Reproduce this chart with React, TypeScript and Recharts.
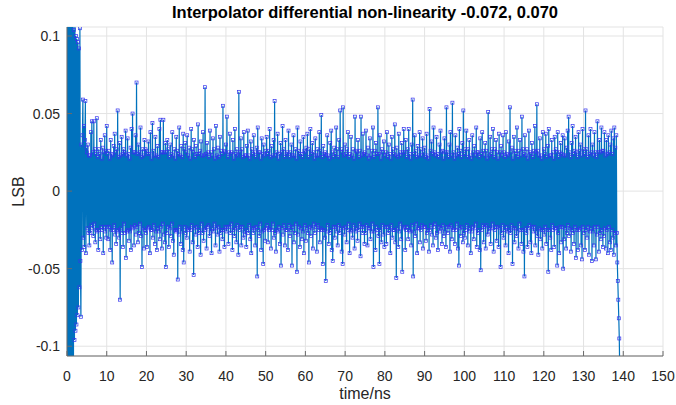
import React from "react";
import {
  LineChart,
  Line,
  XAxis,
  YAxis,
  CartesianGrid,
} from "recharts";

// sample spacing (ns); DNL per sample in milli-LSB, one row per 5 ns
const STEP_NS = 0.125;

const DNL_MLSB: number[] = [
  210, -220, 230, -200, 215, -235, 205, -225, 220, -210, 240, -215, 200, -115, 104, -96, 110, -90, 100, -86, 98, -80, 96, -75, 92, -62, 105, -45, -81, 30, -38, 36, 59, -30, 42, -36, 33, 58, -40, 28,
  25, -24, 30, -27, 23, -35, 23, -27, 38, -22, 45, -24, 25, -29, 45, -21, 27, -33, 24, -25, 47, -26, 22, -38, 27, -25, 24, -31, 33, -23, 21, -25, 28, -40, 25, -23, 36, -26, 26, -30,
  42, -23, 24, -31, 26, -23, 21, -38, 33, -25, 24, -46, 23, -25, 29, -22, 37, -28, 25, -34, 27, -25, 52, -26, 22, -30, 31, -70, 23, -24, 35, -27, 24, -36, 27, -21, 25, -27, 39, -43,
  23, -26, 34, -25, 24, -32, 21, -26, 28, -38, 40, -23, 50, -24, 25, -35, 25, -22, 36, -28, 70, -23, 24, -33, 30, -27, 25, -21, 41, -29, 22, -49, 27, -24, 23, -37, 33, -25, 27, -27,
  26, -36, 24, -24, 32, -23, 24, -40, 38, -25, 21, -25, 44, -30, 26, -22, 23, -34, 35, -26, 23, -38, 29, -24, 22, -26, 40, -31, 46, -23, 25, -37, 25, -21, 46, -28, 25, -33, 31, -49,
  25, -27, 33, -23, 27, -36, 22, -24, 30, -29, 24, -21, 38, -32, 23, -41, 27, -25, 21, -26, 35, -25, 26, -57, 24, -28, 41, -23, 23, -34, 29, -26, 22, -38, 37, -46, 27, -23, 31, -27,
  25, -30, 36, -24, 23, -25, 28, -39, 21, -25, 40, -22, 27, -33, 25, -54, 33, -24, 22, -28, 29, -23, 24, -36, 43, -27, 24, -25, 26, -41, 32, -21, 23, -27, 38, -32, 23, -24, 67, -25,
  24, -37, 31, -23, 25, -22, 22, -29, 39, -26, 25, -40, 23, -24, 34, -26, 27, -21, 21, -35, 42, -24, 23, -28, 28, -23, 22, -39, 35, -27, 26, -25, 24, -31, 55, -25, 26, -36, 25, -23,
  30, -26, 48, -23, 22, -34, 25, -23, 37, -27, 24, -21, 25, -38, 33, -25, 21, -29, 40, -24, 24, -33, 27, -22, 23, -41, 64, -25, 25, -23, 34, -35, 27, -23, 22, -30, 38, -26, 23, -28,
  23, -36, 29, -25, 39, -27, 23, -22, 21, -31, 32, -40, 27, -24, 24, -27, 36, -24, 25, -35, 22, -23, 28, -55, 41, -25, 25, -29, 25, -21, 21, -38, 34, -26, 24, -47, 30, -25, 23, -32,
  26, -24, 35, -22, 24, -33, 26, -25, 40, -24, 22, -37, 29, -25, 23, -21, 33, -30, 58, -27, 23, -39, 25, -25, 37, -26, 21, -23, 24, -34, 31, -48, 25, -24, 42, -28, 27, -22, 22, -35,
  33, -25, 24, -25, 25, -38, 39, -22, 22, -29, 25, -25, 30, -48, 23, -23, 36, -33, 23, -27, 27, -21, 21, -52, 41, -28, 26, -23, 24, -36, 32, -24, 24, -31, 22, -26, 35, -40, 26, -22,
  25, -32, 28, -24, 37, -27, 22, -46, 27, -23, 40, -29, 24, -24, 31, -37, 25, -21, 21, -27, 34, -23, 23, -39, 27, -22, 23, -25, 38, -33, 26, -24, 49, -25, 22, -47, 29, -25, 24, -30,
  25, -58, 23, -26, 36, -22, 23, -34, 21, -27, 31, -25, 39, -38, 25, -45, 22, -23, 28, -30, 24, -23, 41, -26, 27, -35, 22, -22, 33, -27, 52, -24, 25, -39, 27, -47, 54, -24, 23, -28,
  30, -23, 24, -33, 27, -25, 38, -21, 22, -40, 24, -26, 35, -25, 23, -30, 27, -22, 21, -37, 48, -26, 26, -24, 25, -32, 33, -25, 22, -21, 26, -42, 48, -23, 23, -27, 37, -23, 24, -34,
  25, -27, 39, -22, 23, -35, 28, -24, 21, -24, 34, -31, 23, -26, 26, -21, 41, -49, 22, -26, 26, -38, 31, -23, 24, -25, 54, -29, 24, -47, 36, -25, 21, -33, 27, -22, 25, -28, 32, -36,
  23, -23, 25, -34, 38, -23, 22, -27, 30, -25, 24, -40, 21, -22, 35, -30, 27, -25, 24, -25, 43, -33, 23, -56, 28, -24, 22, -36, 37, -26, 25, -21, 23, -31, 31, -52, 25, -24, 40, -23,
  25, -38, 33, -25, 22, -23, 27, -31, 40, -25, 24, -26, 21, -35, 30, -22, 59, -55, 24, -26, 36, -29, 26, -21, 22, -40, 29, -24, 23, -24, 38, -33, 27, -25, 23, -22, 34, -37, 25, -23,
  28, -23, 22, -32, 37, -27, 23, -25, 21, -39, 53, -25, 26, -22, 32, -28, 24, -35, 41, -23, 25, -21, 23, -30, 35, -27, 24, -38, 22, -23, 30, -26, 39, -24, 25, -34, 26, -22, 21, -29,
  34, -26, 25, -36, 54, -23, 25, -27, 22, -23, 30, -39, 38, -22, 23, -31, 57, -25, 25, -24, 21, -34, 36, -25, 23, -21, 28, -37, 24, -48, 40, -24, 26, -29, 22, -23, 31, -33, 52, -27,
  24, -30, 27, -25, 39, -22, 22, -35, 27, -26, 33, -24, 23, -40, 21, -26, 36, -23, 25, -31, 29, -24, 23, -21, 41, -36, 25, -27, 25, -25, 22, -38, 34, -51, 24, -25, 38, -22, 26, -33,
  23, -23, 31, -37, 26, -22, 21, -28, 51, -26, 23, -24, 35, -34, 24, -24, 27, -21, 40, -39, 22, -25, 27, -23, 33, -32, 25, -23, 21, -36, 37, -24, 25, -49, 29, -27, 23, -22, 36, -30,
  25, -25, 22, -35, 38, -23, 24, -26, 23, -40, 32, -25, 54, -27, 25, -22, 28, -47, 21, -24, 35, -33, 26, -24, 24, -29, 41, -26, 22, -37, 26, -21, 33, -25, 23, -34, 48, -25, 27, -39,
  24, -55, 36, -24, 23, -27, 27, -36, 21, -24, 39, -22, 25, -33, 24, -40, 31, -23, 22, -26, 26, -23, 42, -35, 25, -26, 56, -29, 26, -41, 23, -24, 34, -31, 23, -25, 21, -37, 38, -25,
  27, -28, 24, -23, 37, -34, 22, -25, 29, -52, 40, -25, 23, -30, 23, -38, 33, -22, 25, -25, 21, -36, 35, -24, 27, -24, 25, -48, 38, -27, 22, -40, 25, -23, 31, -33, 24, -23, 36, -50,
  23, -31, 34, -24, 23, -37, 28, -27, 39, -22, 48, -29, 25, -24, 22, -39, 31, -25, 42, -27, 24, -34, 26, -23, 35, -43, 25, -25, 22, -38, 38, -25, 26, -24, 30, -35, 23, -44, 40, -23,
  27, -27, 24, -38, 52, -25, 27, -30, 22, -23, 36, -41, 24, -26, 40, -24, 25, -45, 30, -26, 23, -35, 38, -23, 25, -44, 22, -28, 45, -23, 25, -39, 33, -27, 25, -31, 41, -25, 26, -36,
  26, -29, 38, -24, 23, -37, 33, -25, 24, -40, 36, -23, 25, -33, 30, -38, 39, -25, 24, -30, 34, -41, 41, -27, 28, -35, 36, -27, -46, -58, -70, -82, -95, -120,
];

const X_TICKS = [0, 10, 20, 30, 40, 50, 60, 70, 80, 90, 100, 110, 120, 130, 140, 150];
const Y_TICKS = [-0.1, -0.05, 0, 0.05, 0.1];
const Y_DOMAIN: [number, number] = [-0.1063, 0.1058];

const TITLE = "Interpolator differential non-linearity -0.072, 0.070";

const FONT = "'Liberation Sans', Arial, Helvetica, sans-serif";
const AXIS_COLOR = "#6b6b6b";
const TEXT_COLOR = "#262626";
const LINE_COLOR = "#0072BD";
const MARKER_COLOR = "#3535ee";

const chartData = DNL_MLSB.map((v, i) => ({ t: i * STEP_NS, dnl: v / 1000 }));

function SquareMarker(props: any) {
  const { cx, cy, index } = props;
  if (cx == null || cy == null) return <g key={index} />;
  return (
    <rect
      key={index}
      x={cx - 1.5}
      y={cy - 1.5}
      width={3}
      height={3}
      fill="none"
      stroke={MARKER_COLOR}
      strokeWidth={0.7}
    />
  );
}

export default function App() {
  const tickStyle = { fontSize: 14, fill: TEXT_COLOR, fontFamily: FONT };
  return (
    <div
      style={{
        position: "absolute",
        left: 0,
        top: 0,
        width: 676,
        height: 405,
        background: "#fff",
        fontFamily: FONT,
      }}
    >
      <div
        style={{
          position: "absolute",
          left: 67,
          width: 596,
          top: 3,
          textAlign: "center",
          fontSize: 16.5,
          fontWeight: "bold",
          color: "#000",
        }}
      >
        {TITLE}
      </div>
      <LineChart
        width={676}
        height={405}
        data={chartData}
        margin={{ top: 27, right: 13, bottom: 0, left: 0 }}
      >
        <CartesianGrid stroke="#e3e3e3" strokeWidth={1} />
        <XAxis
          dataKey="t"
          type="number"
          domain={[0, 150]}
          ticks={X_TICKS}
          height={49}
          interval={0}
          tickSize={-5}
          tickMargin={20}
          tick={tickStyle}
          stroke={AXIS_COLOR}
          allowDataOverflow
          label={{
            value: "time/ns",
            position: "insideBottom",
            offset: 6,
            style: { fontSize: 16, fill: TEXT_COLOR, fontFamily: FONT },
          }}
        />
        <XAxis
          xAxisId="top"
          orientation="top"
          type="number"
          domain={[0, 150]}
          ticks={X_TICKS}
          height={0}
          interval={0}
          tickSize={-5}
          tick={false}
          stroke={AXIS_COLOR}
        />
        <YAxis
          type="number"
          domain={Y_DOMAIN}
          ticks={Y_TICKS}
          width={67}
          interval={0}
          tickSize={-5}
          tickMargin={12}
          tick={tickStyle}
          stroke={AXIS_COLOR}
          allowDataOverflow
          label={({ viewBox }: any) => {
            const cy = viewBox.y + viewBox.height / 2;
            return (
              <text
                x={18}
                y={cy}
                transform={`rotate(-90 18 ${cy})`}
                textAnchor="middle"
                dominantBaseline="central"
                fontSize={16}
                fill={TEXT_COLOR}
                fontFamily={FONT}
              >
                LSB
              </text>
            );
          }}
        />
        <YAxis
          yAxisId="right"
          orientation="right"
          type="number"
          domain={Y_DOMAIN}
          ticks={Y_TICKS}
          width={0}
          interval={0}
          tickSize={-5}
          tick={false}
          stroke={AXIS_COLOR}
          allowDataOverflow
        />
        <Line
          type="linear"
          dataKey="dnl"
          stroke={LINE_COLOR}
          strokeWidth={1.2}
          dot={SquareMarker}
          activeDot={false}
          isAnimationActive={false}
        />
      </LineChart>
    </div>
  );
}
